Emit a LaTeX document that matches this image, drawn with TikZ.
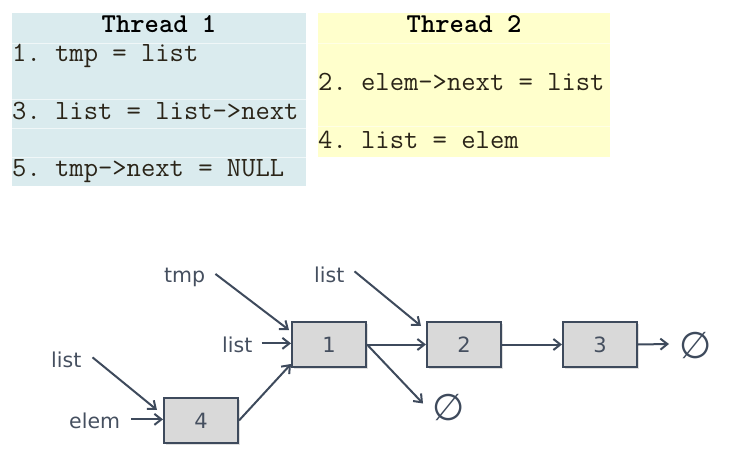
\documentclass[tikz,border=0pt]{standalone}
\usepackage{fontspec}
\setmainfont{DejaVu Sans}
\usetikzlibrary{arrows.meta,shadows,calc}
\definecolor{slate}{HTML}{3E4A5C}
\definecolor{labelc}{HTML}{454F5F}
\definecolor{tblue}{HTML}{DAEBEE}
\definecolor{tyellow}{HTML}{FFFFCC}
\definecolor{codec}{HTML}{2A2418}
\tikzset{
  arr/.style={draw=slate, line width=2pt, -{Straight Barb[length=7pt,width=11pt]}},
  cell/.style={draw=slate, line width=2pt, fill={rgb,255:red,217;green,217;blue,217}, minimum width=74pt, minimum height=45pt, inner sep=0pt, font=\fontsize{21}{22}\selectfont, text=labelc, drop shadow={shadow xshift=1.5pt, shadow yshift=-1.5pt, opacity=0.25}},
  lbl/.style={anchor=base west, inner sep=0pt, font=\fontsize{20.5}{22}\selectfont, text=labelc},
  code/.style={anchor=base west, inner sep=0pt, font=\ttfamily\frenchspacing\fontsize{27.8}{29}\selectfont, text=codec},
  head/.style={anchor=base, inner sep=0pt, font=\ttfamily\bfseries\fontsize{27.3}{29}\selectfont, text=black},
  nul/.style={inner sep=0pt, font=\fontsize{37}{39}\selectfont, text=slate},
}
\begin{document}
\begin{tikzpicture}[x=1pt,y=-1pt]
\useasboundingbox (0,0) rectangle (729,468);
% Thread tables
\fill[tblue] (12,13) rectangle (306,186);
\fill[tyellow] (318,13) rectangle (610,157);
\foreach \yy in {43,99,128,157} \draw[white!60!tblue, line width=0.8pt] (12,\yy) -- (306,\yy);
\foreach \yy in {43,126} \draw[white!50!tyellow, line width=0.8pt] (318,\yy) -- (610,\yy);
\node[head] (h1) at (159,33) {Thread 1};
\node[code] (c1) at (12,62) {1. tmp = list};
\node[code] (c3) at (12,119.5) {3. list = list->next};
\node[code] (c5) at (12,177) {5. tmp->next = NULL};
\node[head] (h2) at (464,33) {Thread 2};
\node[code] (c2) at (318,91) {2. elem->next = list};
\node[code] (c4) at (318,149) {4. list = elem};
% Boxes
\node[cell] (b1) at (329,344.5) {1};
\node[cell] (b2) at (464,344.5) {2};
\node[cell] (b3) at (600,344.5) {3};
\node[cell] (b4) at (201,420.5) {4};
% Labels
\node[lbl] (tmp) at (164,283) {tmp};
\node[lbl] (listT) at (314,283) {list};
\node[lbl] (listM) at (222,352) {list};
\node[lbl] (listL) at (51,367) {list};
\node[lbl] (elem) at (69,428) {elem};
% Null symbols
\node[nul] (nullA) at (449,407.5) {∅};
\node[nul] (nullB) at (696,346) {∅};
% Coordinates
\coordinate (tmpS) at ($(tmp.east)+(10,-4)$);
\coordinate (tmpE) at ($(b1.north west)+(-2,9)$);
\coordinate (listTS) at ($(listT.east)+(10,-4)$);
\coordinate (listTE) at ($(b2.north west)+(-5,5)$);
\coordinate (listMS) at ($(listM.east)+(9,-1)$);
\coordinate (listLS) at ($(listL.east)+(11,-2)$);
\coordinate (listLE) at ($(b4.north west)+(-6,13)$);
\coordinate (elemS) at ($(elem.east)+(11,-1)$);
\coordinate (b1SW) at ($(b1.south west)+(0,-4)$);
\coordinate (nullAE) at ($(nullA)+(-26,-4)$);
\coordinate (nullBE) at ($(nullB)+(-27,-2)$);
% Connectors
\draw[arr] (tmpS) -- (tmpE);
\draw[arr] (listTS) -- (listTE);
\draw[arr] (listMS) -- (listMS -| b1.west);
\draw[arr] (listLS) -- (listLE);
\draw[arr] (elemS) -- (elemS -| b4.west);
\draw[arr] (b4.east) -- (b1SW);
\draw[arr] (b1.east) -- (b2.west);
\draw[arr] (b1.east) -- (nullAE);
\draw[arr] (b2.east) -- (b3.west);
\draw[arr] (b3.east) -- (nullBE);
\end{tikzpicture}
\end{document}
